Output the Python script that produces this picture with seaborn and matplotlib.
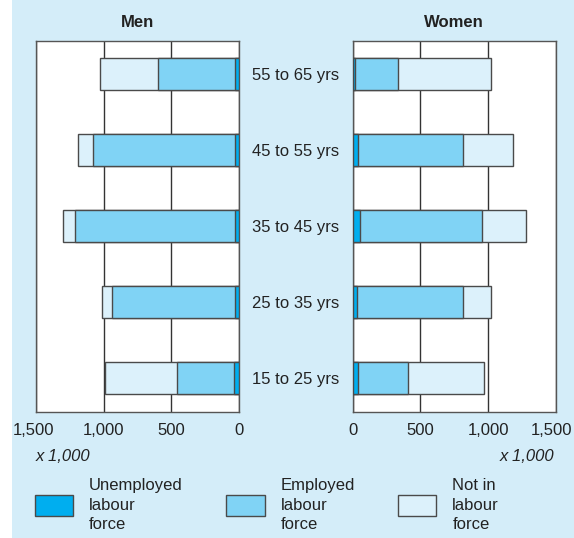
# Labour force status by age and sex - back-to-back stacked bars
import numpy as np
import matplotlib
matplotlib.use("Agg")
import matplotlib.pyplot as plt
import matplotlib.transforms as mtransforms
import seaborn as sns
from matplotlib.patches import Rectangle, Patch

# Data (x 1,000)
ages = ["55 to 65 yrs", "45 to 55 yrs", "35 to 45 yrs", "25 to 35 yrs", "15 to 25 yrs"]
men_unemployed = [30, 30, 27, 27, 37]
men_employed = [568, 1049, 1188, 912, 424]
men_not_in = [431, 110, 84, 70, 532]
women_unemployed = [19, 41, 56, 34, 41]
women_employed = [312, 770, 900, 777, 368]
women_not_in = [691, 373, 326, 208, 559]

ticks = [0, 500, 1000, 1500]
tick_labels = ["0", "500", "1,000", "1,500"]
legend_labels = ["Unemployed\nlabour\nforce", "Employed\nlabour\nforce", "Not in\nlabour\nforce"]

bg = "#d4edf9"
c_unemp = "#00aeef"
c_emp = "#80d3f5"
c_not = "#dcf1fb"
edge = "#4a4a4a"

plt.rcParams["font.family"] = ["Liberation Sans", "DejaVu Sans"]
plt.rcParams["font.size"] = 12

fig = plt.figure(figsize=(5.74, 5.38), dpi=100, facecolor="white")
fig.patches.append(Rectangle((12 / 574, 0), 1, 1, transform=fig.transFigure,
                             facecolor=bg, edgecolor="none", zorder=-10))

ax_m = fig.add_axes([36 / 574, 126 / 538, 203 / 574, 371 / 538])
ax_w = fig.add_axes([352.7 / 574, 126 / 538, 203.3 / 574, 371 / 538])


def draw(ax, unemp, emp, notin):
    u = np.array(unemp)
    e = u + np.array(emp)
    t = e + np.array(notin)
    # draw totals first, then overlay the inner segments
    for vals, col in [(t, c_not), (e, c_emp), (u, c_unemp)]:
        sns.barplot(x=vals, y=ages, orient="h", color=col, saturation=1,
                    width=0.42, edgecolor=edge, linewidth=1, ax=ax, zorder=3)
    ax.set_xlim(0, 1500)
    ax.set_ylim(4.45, -0.44)
    ax.set_xticks(ticks)
    ax.set_xticklabels(tick_labels)
    ax.set_xlabel("")
    ax.set_ylabel("")
    ax.set_facecolor("white")
    ax.xaxis.grid(True, color="#333333", linewidth=1)
    ax.set_axisbelow(True)
    ax.tick_params(axis="both", length=0)
    ax.tick_params(axis="x", pad=8, labelsize=12, colors="#222222")
    for s in ax.spines.values():
        s.set_color("#555555")
        s.set_linewidth(1)


draw(ax_m, men_unemployed, men_employed, men_not_in)
draw(ax_w, women_unemployed, women_employed, women_not_in)

ax_m.invert_xaxis()
ax_m.set_yticklabels([])
ax_m.set_title("Men", fontweight="bold", fontsize=12, pad=10, color="#222222")
ax_w.set_title("Women", fontweight="bold", fontsize=12, pad=10, color="#222222")

# nudge outermost tick labels inward a little, as in the original
lab = ax_w.get_xticklabels()[-1]
lab.set_transform(lab.get_transform() + mtransforms.ScaledTranslation(-3 / 72, 0, fig.dpi_scale_trans))
lab = ax_m.get_xticklabels()[-1]
lab.set_transform(lab.get_transform() + mtransforms.ScaledTranslation(-1.5 / 72, 0, fig.dpi_scale_trans))

# category labels centred between the two panels
ax_w.tick_params(axis="y", pad=41, labelsize=12, colors="#222222")
for lab in ax_w.get_yticklabels():
    lab.set_ha("center")

ax_m.text(0, -0.12, "x 1,000", transform=ax_m.transAxes, style="italic",
          ha="left", va="center", fontsize=12, color="#222222")
ax_w.text(0.99, -0.12, "x 1,000", transform=ax_w.transAxes, style="italic",
          ha="right", va="center", fontsize=12, color="#222222")

handles = [Patch(facecolor=c, edgecolor=edge, linewidth=1) for c in (c_unemp, c_emp, c_not)]
leg = fig.legend(handles, legend_labels, ncol=3, frameon=False, loc="center left",
                 bbox_to_anchor=(20 / 574, 33 / 538), handlelength=2.3, handleheight=1.5,
                 handletextpad=0.95, columnspacing=2.6, fontsize=12, labelspacing=0.2)
for t in leg.get_texts():
    t.set_linespacing(1.4)
    t.set_color("#222222")

fig.savefig("out.png", dpi=100, facecolor=fig.get_facecolor())
